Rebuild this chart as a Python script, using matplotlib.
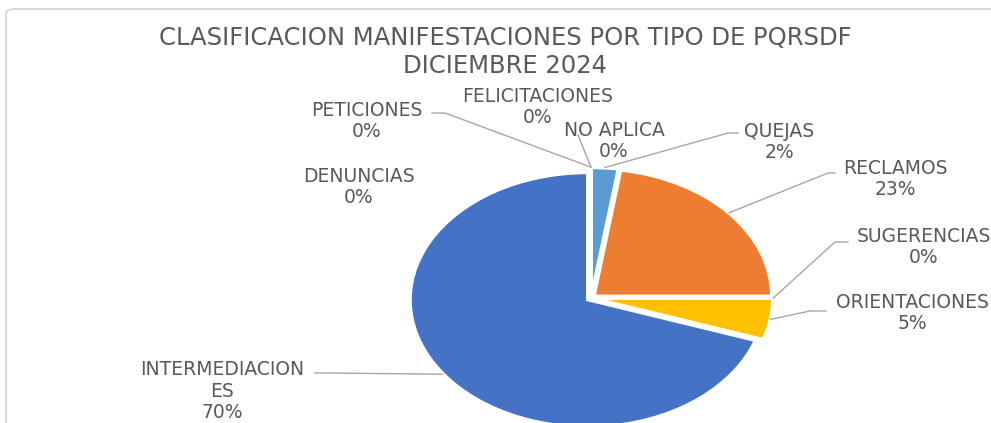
import numpy as np
import matplotlib
matplotlib.use("Agg")
import matplotlib.pyplot as plt
from matplotlib.patches import FancyBboxPatch

# data, clockwise from 12 o'clock
categories = ["QUEJAS", "RECLAMOS", "SUGERENCIAS", "ORIENTACIONES",
              "INTERMEDIACIONES", "DENUNCIAS", "PETICIONES",
              "FELICITACIONES", "NO APLICA"]
values = [2.4, 22.6, 0.0, 5.2, 69.8, 0.0, 0.0, 0.0, 0.0]
pct_labels = ["2%", "23%", "0%", "5%", "70%", "0%", "0%", "0%", "0%"]
colors = ["#5B9BD5", "#ED7D31", "#A5A5A5", "#FFC000", "#4472C4",
          "#70AD47", "#264478", "#9E480E", "#636363"]

W, H = 991, 423
CX, CY = 591, 298      # pie centre in pixels
RX, RY = 177, 127      # stretched pie radii in pixels

fig = plt.figure(figsize=(W / 100, H / 100), dpi=100)
fig.patch.set_facecolor("white")
ax = fig.add_axes([0, 0, 1, 1])
ax.pie(values, colors=colors, startangle=90, counterclock=False,
       explode=[0.025] * len(values),
       wedgeprops=dict(edgecolor="white", linewidth=2))
ax.set_aspect("auto")
ax.set_xlim(-CX / RX, (W - CX) / RX)
ax.set_ylim(-(H - CY) / RY, CY / RY)
ax.axis("off")


def P(px, py):
    return ((px - CX) / RX, (CY - py) / RY)


def edge(i, r=1.03):
    # point on pie rim at the middle of slice i
    tot = sum(values)
    start = sum(values[:i]) / tot
    mid = start + values[i] / tot / 2
    th = np.deg2rad(90 - 360 * mid)
    return (r * np.cos(th), r * np.sin(th))


txt_color = "#595959"
line_color = "#A6A6A6"
font = ["DejaVu Sans"]

# chart frame
frame = FancyBboxPatch((6 / W, -0.2), 1.2, (H - 9) / H + 0.2,
                       boxstyle="round,pad=0,rounding_size=0.01",
                       transform=fig.transFigure, facecolor="none",
                       edgecolor="#D9D9D9", linewidth=1.5)
fig.patches.append(frame)

fig.text(505 / W, 1 - 38 / H, "CLASIFICACION MANIFESTACIONES POR TIPO DE PQRSDF",
         ha="center", va="center", fontsize=17.5, color=txt_color,
         family=font)
fig.text(505 / W, 1 - 66 / H, "DICIEMBRE 2024", ha="center", va="center",
         fontsize=17.5, color=txt_color, family=font)

# label positions (pixel centre of label block) and leader elbows
label_pos = {
    "QUEJAS": (779, 142),
    "RECLAMOS": (895, 179),
    "SUGERENCIAS": (924, 247),
    "ORIENTACIONES": (912, 313),
    "INTERMEDIACIONES": (222, 391),
    "DENUNCIAS": (359, 187),
    "PETICIONES": (367, 121),
    "FELICITACIONES": (538, 107),
    "NO APLICA": (614, 141),
}
leaders = {
    "QUEJAS": [(738, 133), (728, 133)],
    "RECLAMOS": [(835, 173), (828, 173)],
    "SUGERENCIAS": [(848, 242), (835, 242)],
    "ORIENTACIONES": [(826, 311), (810, 311)],
    "INTERMEDIACIONES": [(315, 373), (330, 373)],
    "PETICIONES": [(432, 113), (445, 113)],
    "FELICITACIONES": [(578, 135)],
}

for i, cat in enumerate(categories):
    name = "INTERMEDIACION\nES" if cat == "INTERMEDIACIONES" else cat
    x, y = P(*label_pos[cat])
    ax.text(x, y, name + "\n" + pct_labels[i], ha="center", va="center",
            fontsize=13.5, color=txt_color, family=font, linespacing=1.15)
    if cat in leaders:
        pts = [P(*p) for p in leaders[cat]] + [edge(i)]
        ax.plot([p[0] for p in pts], [p[1] for p in pts],
                color=line_color, linewidth=1)

fig.savefig("out.png", dpi=100)
